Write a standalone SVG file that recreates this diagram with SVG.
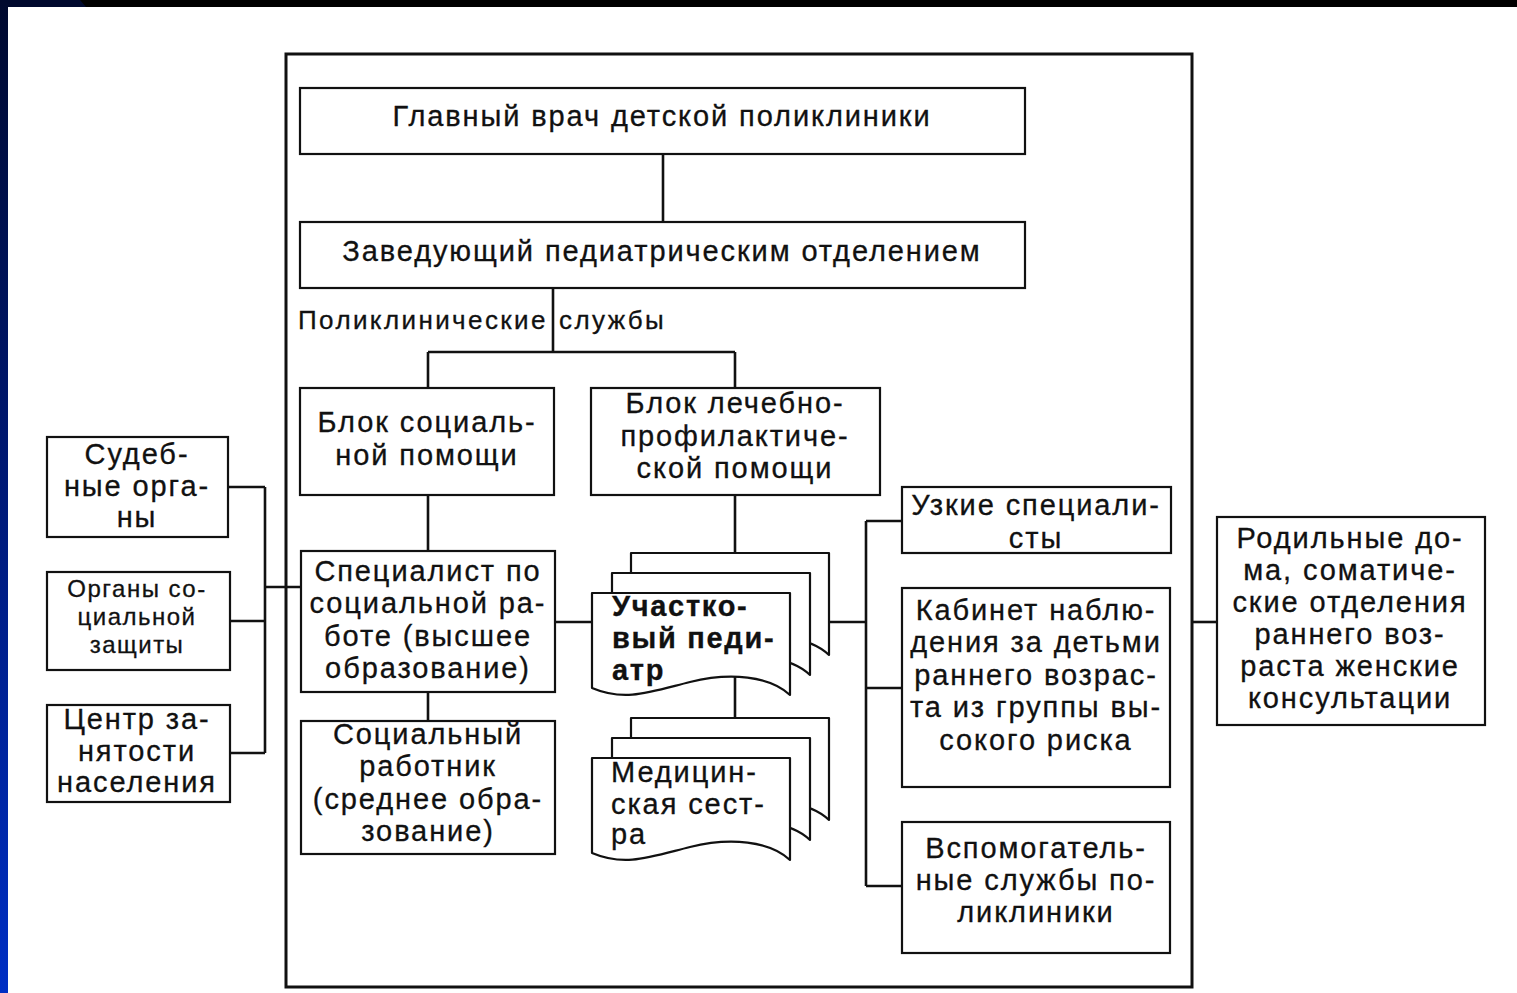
<svg xmlns="http://www.w3.org/2000/svg" width="1517" height="993" viewBox="0 0 1517 993">
<defs>
<linearGradient id="lbar" x1="0" y1="0" x2="0" y2="1">
<stop offset="0" stop-color="#00092e"/>
<stop offset="0.5" stop-color="#001a78"/>
<stop offset="1" stop-color="#002fc4"/>
</linearGradient>
<style>
.bx{fill:#fff;stroke:#111;stroke-width:2.2}
.doc{fill:#fff;stroke:#111;stroke-width:2.2;stroke-linejoin:round}
.ln{fill:none;stroke:#111;stroke-width:2.6}
.t{font-family:"Liberation Sans",Arial,sans-serif;font-size:29px;fill:#111;stroke:#111;stroke-width:0.3;text-anchor:middle;letter-spacing:1.9px}
.ts{font-size:24px;letter-spacing:1.5px}
.tp{font-size:26px;letter-spacing:2.4px}
.tl{text-anchor:start}
.b{font-weight:bold;letter-spacing:1.7px}
</style>
</defs>
<rect x="0" y="0" width="1517" height="993" fill="#fff"/>
<rect x="0" y="0" width="1517" height="7" fill="#000"/>
<polygon points="0,0 80,0 86,7 0,7" fill="#00092e"/>
<rect x="0" y="0" width="8" height="993" fill="url(#lbar)"/>

<g id="frame"><rect x="286" y="54" width="906" height="933" fill="none" stroke="#111" stroke-width="3"/></g>

<g id="connectors">
<path class="ln" d="M663,154V222"/>
<path class="ln" d="M553,288V352M428,352H735M428,352V388M735,352V388"/>
<path class="ln" d="M428,495V551M428,692V721"/>
<path class="ln" d="M735,495V554"/>
<path class="ln" d="M735,676V722"/>
<path class="ln" d="M555,622H592M830,622H866"/>
<path class="ln" d="M866,521V886M866,521H902M866,688H902M866,886H902"/>
<path class="ln" d="M1192,622H1217"/>
<path class="ln" d="M228,487H265M230,621H265M230,753H265M265,487V753M265,587H301"/>
</g>

<g id="n-chief"><rect class="bx" x="300" y="88" width="725" height="66"/>
<text class="t" x="662" y="126">Главный врач детской поликлиники</text></g>

<g id="n-head"><rect class="bx" x="300" y="222" width="725" height="66"/>
<text class="t" x="662" y="261">Заведующий педиатрическим отделением</text></g>

<g id="l-services"><text class="t tp tl" x="298" y="329">Поликлинические <tspan x="559">службы</tspan></text></g>

<g id="n-social-block"><rect class="bx" x="300" y="388" width="254" height="107"/>
<text class="t" x="427" y="432">Блок социаль-</text>
<text class="t" x="427" y="465">ной помощи</text></g>

<g id="n-medical-block"><rect class="bx" x="591" y="388" width="289" height="107"/>
<text class="t" x="735" y="413">Блок лечебно-</text>
<text class="t" x="735" y="446">профилактиче-</text>
<text class="t" x="735" y="478">ской помощи</text></g>

<g id="n-specialist"><rect class="bx" x="301" y="551" width="254" height="141"/>
<text class="t" x="428" y="581">Специалист по</text>
<text class="t" x="428" y="613">социальной ра-</text>
<text class="t" x="428" y="646">боте (высшее</text>
<text class="t" x="428" y="678">образование)</text></g>

<g id="n-socworker"><rect class="bx" x="301" y="721" width="254" height="133"/>
<text class="t" x="428" y="744">Социальный</text>
<text class="t" x="428" y="776">работник</text>
<text class="t" x="428" y="809">(среднее обра-</text>
<text class="t" x="428" y="841">зование)</text></g>

<g id="n-pediatrician">
<path class="doc" transform="translate(39,-40)" d="M592,593H790V695C770,676 730,672 690,682C650,692 625,702 592,688Z"/>
<path class="doc" transform="translate(20,-20)" d="M592,593H790V695C770,676 730,672 690,682C650,692 625,702 592,688Z"/>
<path class="doc" d="M592,593H790V695C770,676 730,672 690,682C650,692 625,702 592,688Z"/>
<text class="t tl b" x="612" y="616">Участко-</text>
<text class="t tl b" x="612" y="648">вый педи-</text>
<text class="t tl b" x="612" y="680">атр</text></g>

<g id="n-nurse" transform="translate(0,165)">
<path class="doc" transform="translate(39,-40)" d="M592,593H790V695C770,676 730,672 690,682C650,692 625,702 592,688Z"/>
<path class="doc" transform="translate(20,-20)" d="M592,593H790V695C770,676 730,672 690,682C650,692 625,702 592,688Z"/>
<path class="doc" d="M592,593H790V695C770,676 730,672 690,682C650,692 625,702 592,688Z"/>
<text class="t tl" x="611" y="617">Медицин-</text>
<text class="t tl" x="611" y="649">ская сест-</text>
<text class="t tl" x="611" y="679">ра</text></g>

<g id="n-narrow"><rect class="bx" x="902" y="487" width="269" height="66"/>
<text class="t" x="1036" y="515">Узкие специали-</text>
<text class="t" x="1036" y="548">сты</text></g>

<g id="n-cabinet"><rect class="bx" x="902" y="588" width="268" height="199"/>
<text class="t" x="1036" y="620">Кабинет наблю-</text>
<text class="t" x="1036" y="652">дения за детьми</text>
<text class="t" x="1036" y="685">раннего возрас-</text>
<text class="t" x="1036" y="717">та из группы вы-</text>
<text class="t" x="1036" y="750">сокого риска</text></g>

<g id="n-aux"><rect class="bx" x="902" y="822" width="268" height="131"/>
<text class="t" x="1036" y="858">Вспомогатель-</text>
<text class="t" x="1036" y="890">ные службы по-</text>
<text class="t" x="1036" y="922">ликлиники</text></g>

<g id="n-maternity"><rect class="bx" x="1217" y="517" width="268" height="208"/>
<text class="t" x="1350" y="548">Родильные до-</text>
<text class="t" x="1350" y="580">ма, соматиче-</text>
<text class="t" x="1350" y="612">ские отделения</text>
<text class="t" x="1350" y="644">раннего воз-</text>
<text class="t" x="1350" y="676">раста  женские</text>
<text class="t" x="1350" y="708">консультации</text></g>

<g id="n-court"><rect class="bx" x="47" y="437" width="181" height="100"/>
<text class="t" x="137" y="464">Судеб-</text>
<text class="t" x="137" y="496">ные орга-</text>
<text class="t" x="137" y="527">ны</text></g>

<g id="n-socprot"><rect class="bx" x="47" y="572" width="183" height="98"/>
<text class="t ts" x="137" y="597">Органы со-</text>
<text class="t ts" x="137" y="625">циальной</text>
<text class="t ts" x="137" y="653">защиты</text></g>

<g id="n-employment"><rect class="bx" x="47" y="705" width="183" height="97"/>
<text class="t" x="137" y="729">Центр за-</text>
<text class="t" x="137" y="761">нятости</text>
<text class="t" x="137" y="792">населения</text></g>
</svg>
